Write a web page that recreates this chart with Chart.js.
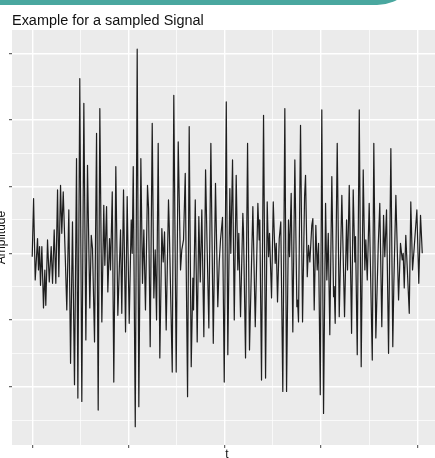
<!DOCTYPE html>
<html>
<head>
<meta charset="utf-8">
<script src="https://cdn.jsdelivr.net/npm/chart.js@4.4.1/dist/chart.umd.min.js"></script>
<style>
  html, body { margin: 0; padding: 0; background: #fff; overflow: hidden; }
  #wrap { position: absolute; left: 0; top: 0; width: 442px; height: 458px; }
  #band { position: absolute; left: 0; top: -40px; width: 419px; height: 45px; background: #49a79f; border-bottom-right-radius: 42px; z-index: 2; }
</style>
</head>
<body>
<div id="band"></div>
<div id="wrap"><canvas id="signalChart"></canvas></div>
<script>
// sampled signal (extrema + a few kinks)
const t = [
  0, 1.4, 3.1, 5.5, 6.5, 7.6, 8.6, 10.0, 11.7, 13.1,
  14.1, 15.9, 17.7, 19.7, 21.1, 22.8, 24.5, 26.3, 27.6, 29.4,
  30.7, 32.2, 34.3, 35.9, 38.0, 39.8, 41.8, 43.9, 46.0, 47.4,
  49.4, 51.5, 53.6, 55.7, 57.4, 59.8, 61.3, 62.6, 64.7, 66.8,
  68.5, 70.2, 72.3, 74.3, 75.4, 77.2, 78.5, 80.3, 81.3, 83.1,
  84.7, 86.8, 88.9, 91.7, 93.0, 94.8, 96.9, 98.6, 100.7, 102.8,
  103.8, 104.9, 107.0, 109.0, 110.7, 112.8, 114.5, 115.9, 117.6, 119.7,
  120.8, 122.5, 124.6, 126.3, 127.7, 129.1, 130.8, 132.5, 134.6, 136.0,
  137.4, 139.1, 141.5, 142.3, 145.4, 147.0, 149.5, 151.6, 154.0, 155.3,
  157.1, 158.9, 161.3, 163.0, 165.1, 166.8, 167.5, 169.3, 171.3, 173.0,
  174.5, 176.1, 178.2, 180.0, 181.7, 183.4, 185.5, 188.0, 190.3, 192.7,
  194.2, 195.5, 197.6, 199.4, 201.5, 203.1, 205.2, 206.2, 208.0, 209.8,
  211.8, 213.5, 214.5, 216.3, 218.7, 219.4, 221.5, 223.6, 225.6, 229.1,
  231.6, 234.3, 235.7, 236.3, 238.1, 240.2, 242.3, 244.0, 245.4, 246.4,
  248.5, 250.3, 252.3, 253.4, 254.7, 256.5, 258.1, 260.2, 262.3, 264.1,
  266.1, 267.2, 268.9, 270.6, 272.7, 274.8, 275.5, 276.5, 278.6, 280.7,
  282.8, 283.8, 285.6, 286.9, 288.3, 290.3, 291.4, 292.8, 294.5, 295.9,
  297.3, 299.1, 300.7, 302.5, 304.6, 305.9, 307.4, 309.0, 311.1, 312.9,
  313.6, 314.6, 316.7, 318.8, 321.5, 324.3, 326.4, 327.4, 329.2, 331.6,
  333.3, 335.0, 335.7, 337.5, 339.6, 341.6, 343.7, 345.4, 346.4, 347.9,
  349.9, 353.1, 354.7, 356.8, 359.3, 360.9, 363.0, 364.8, 366.1, 367.9,
  370.0, 372.4, 374.4, 375.5, 377.6, 380.4, 382.4, 384.2, 385.2, 386.3,
  387.9, 391.5, 393.1, 394.9, 396.7, 399.4, 401.4, 403.2, 405.0
];
const amplitude = [
  -0.05, 0.82, -0.40, 0.22, -0.25, 0.10, -0.48, 0.10, -0.82, -0.25,
  -0.78, 0.20, -0.43, 0.10, -0.45, 0.35, -0.45, 0.95, -0.35, 1.02,
  0.30, 0.92, -0.05, -0.85, 0.65, -1.65, 0.47, -1.97, 1.42, -2.17,
  2.62, -2.22, 2.25, -1.30, 1.32, -0.82, 0.27, 0.07, -1.33, 1.80,
  -2.35, 2.17, -1.03, 0.72, -0.18, 0.70, -0.58, 0.22, -0.25, 0.92,
  -1.93, 1.30, -0.93, 0.35, -0.90, 0.95, -1.18, 0.85, -1.05, 0.50,
  0.00, 1.30, -2.60, 3.06, -2.30, 1.42, -0.45, 0.35, -0.85, 1.02,
  0.68, -1.40, 1.95, -0.67, 0.05, -1.00, 1.65, -1.57, 0.37, -0.13,
  0.32, -1.15, 0.80, 0.40, -1.78, 2.37, -1.78, 1.67, -0.25, 0.05,
  0.20, 1.20, -2.15, 1.90, -1.70, -0.37, -0.85, 0.80, -1.33, 0.55,
  -0.43, 0.65, -1.25, 1.25, 0.02, -1.12, 1.65, -1.35, 1.05, -0.80,
  -0.13, 0.20, 0.54, -1.93, 2.27, -1.52, 0.97, 0.00, 1.40, -1.00,
  1.17, -0.25, 0.30, -0.95, 0.60, 0.32, -1.57, 1.65, -1.45, 0.70,
  -1.10, 0.75, 0.20, 0.50, -1.90, 2.07, -1.87, 0.77, -0.05, 0.30,
  -0.67, 0.77, -0.15, 0.15, -0.73, 0.22, 0.47, -2.07, 2.17, -2.07,
  0.50, -0.05, 0.90, -1.18, 1.40, -0.80, -0.70, -1.03, 1.92, -1.03,
  0.85, 1.17, -0.35, 0.12, -0.13, 0.42, 0.52, -0.85, 0.42, -0.25,
  0.15, -2.12, 2.15, -2.40, 0.75, -0.40, 0.30, -1.22, 1.15, -0.65,
  -0.50, -1.05, 1.65, -0.95, 0.87, -0.95, 0.50, -0.25, 1.02, -1.20,
  0.95, -0.13, 0.25, -1.52, 2.15, -1.70, 1.25, -0.25, 0.20, -0.40,
  0.75, -1.60, 1.65, -1.27, 0.12, 0.75, -1.10, 0.57, -0.05, 0.65,
  -1.50, 1.57, -1.40, -0.45, 0.87, -0.70, 0.15, -0.10, 0.00, -0.52,
  0.27, -0.90, 0.77, -0.25, 0.10, 0.65, -0.45, 0.57, 0.00
];

// grid breaks (major + minor), no tick labels shown
const xBreaks = [0, 50, 100, 150, 200, 250, 300, 350, 400];
const yBreaks = [-2.5, -2, -1.5, -1, -0.5, 0, 0.5, 1, 1.5, 2, 2.5, 3];

const isMajorX = (v) => Math.abs(v / 100 - Math.round(v / 100)) < 1e-6;
const isMajorY = (v) => Math.abs(v - Math.round(v)) < 1e-6;

// grey panel like ggplot
const panelBackground = {
  id: "panelBackground",
  beforeDraw(chart) {
    const { ctx, chartArea: a } = chart;
    ctx.save();
    ctx.fillStyle = "#EBEBEB";
    ctx.fillRect(a.left, a.top, a.right - a.left, a.bottom - a.top);
    ctx.restore();
  },
};

Chart.defaults.font.family = "'Liberation Sans', Arial, sans-serif";

const ctx = document.getElementById("signalChart").getContext("2d");

new Chart(ctx, {
  type: "line",
  data: {
    datasets: [
      {
        label: "Signal",
        data: t.map((v, i) => ({ x: v, y: amplitude[i] })),
        borderColor: "#1e1e1e",
        borderWidth: 1.2,
        borderJoinStyle: "round",
        pointRadius: 0,
        tension: 0,
        fill: false,
      },
    ],
  },
  options: {
    responsive: true,
    maintainAspectRatio: false,
    animation: false,
    devicePixelRatio: 1,
    layout: { padding: { left: 12, right: 0, top: 0, bottom: 0 } },
    plugins: {
      legend: { display: false },
      tooltip: { enabled: false },
      title: {
        display: true,
        text: "Example for a sampled Signal",
        align: "start",
        color: "#111",
        font: { size: 14.45, weight: "normal", lineHeight: 1.2 },
        padding: { top: 12.3, bottom: 0.36 },
      },
    },
    scales: {
      x: {
        type: "linear",
        min: -21,
        max: 425.5,
        afterBuildTicks: (s) => { s.ticks = xBreaks.map((v) => ({ value: v })); },
        afterFit: (s) => { s.height = 13; },
        ticks: { display: false },
        border: { display: false },
        grid: {
          color: "#fff",
          lineWidth: (c) => (c.tick && isMajorX(c.tick.value) ? 1.4 : 0.7),
          tickLength: 3,
          tickWidth: 1,
          tickColor: (c) => (c.tick && isMajorX(c.tick.value) ? "#444" : "rgba(0,0,0,0)"),
        },
        title: {
          display: true,
          text: "t",
          color: "#111",
          font: { size: 12, lineHeight: "5.8px" },
          padding: 0,
        },
      },
      y: {
        type: "linear",
        min: -2.874,
        max: 3.348,
        afterBuildTicks: (s) => { s.ticks = yBreaks.map((v) => ({ value: v })); },
        afterFit: (s) => { s.width = 0; },
        ticks: { display: false },
        border: { display: false },
        grid: {
          color: "#fff",
          lineWidth: (c) => (c.tick && isMajorY(c.tick.value) ? 1.4 : 0.7),
          tickLength: 3,
          tickWidth: 1,
          tickColor: (c) => (c.tick && isMajorY(c.tick.value) ? "#444" : "rgba(0,0,0,0)"),
        },
        title: {
          display: true,
          text: "Amplitude",
          color: "#111",
          font: { size: 12, lineHeight: "0px" },
          padding: { top: -10.7, bottom: 0 },
        },
      },
    },
  },
  plugins: [panelBackground],
});
</script>
</body>
</html>
